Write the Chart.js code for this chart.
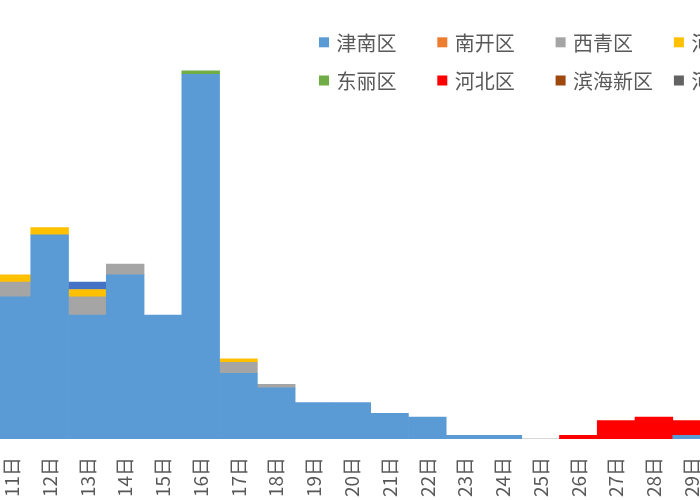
<!DOCTYPE html>
<html>
<head>
<meta charset="utf-8">
<script src="https://cdn.jsdelivr.net/npm/chart.js@4"></script>
<style>
  html, body { margin: 0; padding: 0; background: #fff; overflow: hidden; }
  #wrap { position: absolute; left: -17px; top: 0; width: 750px; height: 520px; }
</style>
</head>
<body>
<div id="wrap"><canvas id="myChart"></canvas></div>
<script>
// days on the x axis
const days = ['11日','12日','13日','14日','15日','16日','17日','18日','19日','20日',
              '21日','22日','23日','24日','25日','26日','27日','28日','29日'];

// cases per district, one value per day
const jinnan   = [39, 56, 34, 45, 34, 100, 18, 14, 10, 10, 7, 6, 1, 1, 0, 0, 0, 0, 1];
const nankai   = [0, 0, 0, 0, 0, 0, 0, 0, 0, 0, 0, 0, 0, 0, 0, 0, 0, 0, 0];
const xiqing   = [4, 0, 5, 3, 0, 0, 3, 1, 0, 0, 0, 0, 0, 0, 0, 0, 0, 0, 0];
const hexi     = [2, 2, 2, 0, 0, 0, 1, 0, 0, 0, 0, 0, 0, 0, 0, 0, 0, 0, 0];
const beichen  = [0, 0, 2, 0, 0, 0, 0, 0, 0, 0, 0, 0, 0, 0, 0, 0, 0, 0, 0];
const dongli   = [0, 0, 0, 0, 0, 1, 0, 0, 0, 0, 0, 0, 0, 0, 0, 0, 0, 0, 0];
const hebei    = [0, 0, 0, 0, 0, 0, 0, 0, 0, 0, 0, 0, 0, 0, 0, 1, 5, 6, 4];
const binhai   = [0, 0, 0, 0, 0, 0, 0, 0, 0, 0, 0, 0, 0, 0, 0, 0, 0, 0, 0];
const hedong   = [0, 0, 0, 0, 0, 0, 0, 0, 0, 0, 0, 0, 0, 0, 0, 0, 0, 0, 0];

const FONT = '"Noto Sans CJK SC", "Microsoft YaHei", sans-serif';
const TEXT = '#595959';

// zero days are left out so no hairline gets drawn
const bars = arr => arr.map(v => v === 0 ? null : v);

// excel style legend: fixed columns, 5 per row
const legendGrid = {
    id: 'legendGrid',
    afterDraw(chart) {
        const ctx = chart.ctx;
        const cols = 5, x0 = 336, pitch = 118.3;
        const rows = [42.3, 80.5];
        ctx.save();
        ctx.font = '20px ' + FONT;
        ctx.textBaseline = 'middle';
        ctx.textAlign = 'left';
        chart.data.datasets.forEach((ds, i) => {
            const x = x0 + (i % cols) * pitch;
            const y = rows[Math.floor(i / cols)];
            ctx.fillStyle = ds.backgroundColor;
            ctx.fillRect(x, y - 5, 10, 10);
            ctx.fillStyle = TEXT;
            ctx.fillText(ds.label, x + 17.5, y + 1);
        });
        ctx.restore();
    }
};

let myChart = document.getElementById('myChart').getContext('2d');

let casesChart = new Chart(myChart, {
    type: 'bar',
    data: {
        labels: days,
        datasets: [
            { label: '津南区',   data: bars(jinnan),  backgroundColor: '#5B9BD5' },
            { label: '南开区',   data: bars(nankai),  backgroundColor: '#ED7D31' },
            { label: '西青区',   data: bars(xiqing),  backgroundColor: '#A5A5A5' },
            { label: '河西区',   data: bars(hexi),    backgroundColor: '#FFC000' },
            { label: '北辰区',   data: bars(beichen), backgroundColor: '#4472C4' },
            { label: '东丽区',   data: bars(dongli),  backgroundColor: '#70AD47' },
            { label: '河北区',   data: bars(hebei),   backgroundColor: '#FF0000' },
            { label: '滨海新区', data: bars(binhai),  backgroundColor: '#9E480E' },
            { label: '河东区',   data: bars(hedong),  backgroundColor: '#636363' }
        ]
    },
    options: {
        responsive: true,
        maintainAspectRatio: false,
        animation: false,
        layout: {
            padding: { left: 10, right: 20, top: 38, bottom: 5 }
        },
        datasets: {
            bar: { barPercentage: 1, categoryPercentage: 1, borderWidth: 0, skipNull: true }
        },
        plugins: {
            legend: { display: false },
            tooltip: { enabled: false }
        },
        scales: {
            x: {
                stacked: true,
                grid: { display: false, drawTicks: false },
                border: { display: true, color: '#D9D9D9', width: 1 },
                ticks: {
                    color: TEXT,
                    font: { family: FONT, size: 19 },
                    minRotation: 90,
                    maxRotation: 90,
                    padding: 18,
                    autoSkip: false
                }
            },
            y: {
                stacked: true,
                display: false,
                min: 0,
                max: 110
            }
        }
    },
    plugins: [legendGrid]
});
</script>
</body>
</html>
